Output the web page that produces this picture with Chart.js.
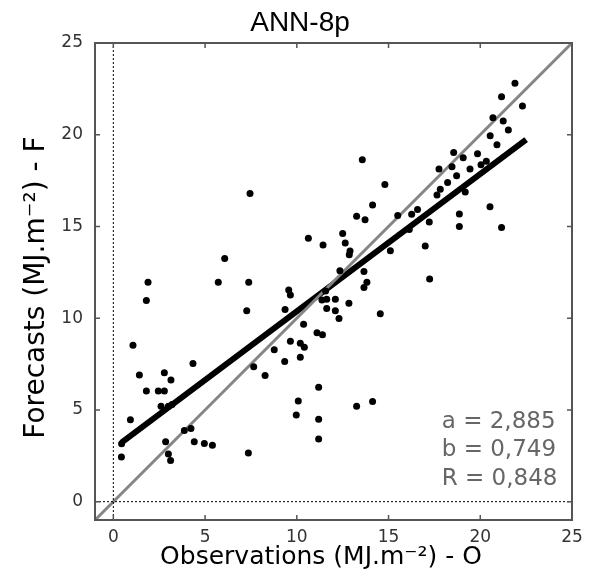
<!DOCTYPE html>
<html>
<head>
<meta charset="utf-8">
<script src="https://cdn.jsdelivr.net/npm/chart.js@4"></script>
<style>
  html, body { margin: 0; padding: 0; background: #fff; }
  #wrap { width: 590px; height: 584px; }
</style>
</head>
<body>
<div id="wrap"><canvas id="chart" width="590" height="584"></canvas></div>
<script>

//
// data
//

const observations = [
    7.45, 6.07, 1.89, 5.72, 7.38, 1.80, 7.27, 1.07, 4.34, 1.42,
    2.78, 3.14, 1.80, 2.45, 2.78, 2.60, 3.00, 3.20, 0.93, 0.45,
    0.44, 2.85, 3.00, 3.12, 4.41, 4.96, 5.40, 7.36, 3.87, 4.23,
    7.65, 9.56, 9.65, 9.36, 10.37, 9.65, 10.19, 10.41, 10.19, 8.77,
    9.34, 8.27, 11.10, 11.40, 11.19, 10.08, 9.97, 11.19, 11.19, 11.37,
    11.63, 11.63, 12.10, 12.10, 12.30, 13.26, 14.13, 12.84, 13.66, 13.82,
    13.66, 14.55, 17.24, 13.57, 14.80, 14.13, 13.26, 13.72, 16.26, 10.63,
    11.43, 12.50, 12.64, 12.90, 12.86, 15.10, 12.35, 11.57, 21.89, 21.16,
    22.30, 20.69, 21.25, 21.53, 20.54, 20.91, 18.55, 19.07, 19.85, 20.04,
    20.33, 17.75, 18.46, 19.44, 18.71, 18.22, 17.82, 17.64, 19.18, 16.58,
    17.22, 18.86, 18.86, 20.53, 21.16, 17.00, 15.50, 16.13
];

const forecasts = [
    16.80, 13.26, 11.96, 11.96, 11.96, 10.97, 10.40, 8.52, 7.53, 6.90,
    7.03, 6.63, 6.03, 6.03, 6.03, 5.20, 5.20, 5.30, 4.47, 3.15,
    2.43, 3.26, 2.60, 2.24, 3.26, 3.17, 3.08, 2.65, 3.88, 3.99,
    7.36, 11.54, 11.26, 10.48, 9.67, 8.75, 8.64, 8.42, 7.87, 8.28,
    7.64, 6.87, 9.20, 9.10, 6.23, 5.48, 4.73, 4.49, 3.42, 10.99,
    11.03, 10.53, 11.03, 10.40, 9.98, 5.20, 5.46, 10.82, 12.55, 11.96,
    11.67, 10.24, 12.14, 18.63, 17.29, 16.17, 15.55, 15.37, 15.66, 14.36,
    13.99, 14.62, 14.10, 13.66, 13.46, 13.68, 12.58, 11.48, 22.80, 22.07,
    21.56, 20.92, 20.75, 20.26, 19.95, 19.45, 19.03, 18.74, 18.96, 18.37,
    18.55, 18.13, 18.26, 18.13, 17.77, 17.40, 17.03, 16.72, 16.88, 15.93,
    15.24, 15.68, 15.00, 16.08, 14.95, 13.94, 15.60, 14.84
];

// fitted line F = a + b*O, drawn over the observed range
const fitA = 2.885;
const fitB = 0.749;
const fitRange = [0.44, 22.5];

const axisMin = -1;
const axisMax = 25;
const tickValues = [0, 5, 10, 15, 20, 25];

const chartTitle = "ANN-8p";
const xTitle = "Observations (MJ.m\u207B\u00B2) - O";
const yTitle = "Forecasts (MJ.m\u207B\u00B2) - F";
const statLabels = ["a = 2,885", "b = 0,749", "R = 0,848"];

//
// frame + inward ticks + titles + stats text
//

const frameTicksPlugin = {
    id: "frameTicks",

    afterDatasetsDraw(chart) {

        const { ctx, chartArea: { left, right, top, bottom }, scales: { x, y } } = chart;

        ctx.save();

        ctx.strokeStyle = "#555";
        ctx.lineWidth = 2;
        ctx.strokeRect(left, top, right - left, bottom - top);

        ctx.lineWidth = 1.5;
        ctx.beginPath();
        tickValues.forEach(v => {
            const px = x.getPixelForValue(v);
            ctx.moveTo(px, bottom);
            ctx.lineTo(px, bottom - 5);
            ctx.moveTo(px, top);
            ctx.lineTo(px, top + 5);

            const py = y.getPixelForValue(v);
            ctx.moveTo(left, py);
            ctx.lineTo(left + 5, py);
            ctx.moveTo(right, py);
            ctx.lineTo(right - 5, py);
        });
        ctx.stroke();

        // regression stats
        ctx.fillStyle = "#666";
        ctx.font = "23px 'DejaVu Sans'";
        ctx.textAlign = "left";
        ctx.textBaseline = "middle";
        const tx = x.getPixelForValue(17.9);
        statLabels.forEach((txt, i) => {
            ctx.fillText(txt, tx, y.getPixelForValue(4.35 - i * 1.55));
        });

        // titles
        ctx.fillStyle = "#000";
        ctx.textAlign = "center";

        ctx.font = "28px 'Liberation Sans'";
        ctx.fillText(chartTitle, 300, 23);

        ctx.font = "25px 'DejaVu Sans'";
        ctx.fillText(xTitle, 321, 557);

        ctx.translate(37, (top + bottom) / 2 + 6);
        ctx.rotate(-Math.PI / 2);
        ctx.font = "28px 'DejaVu Sans'";
        ctx.fillText(yTitle, 0, 0);

        ctx.restore();
    }
};

const points = observations.map((o, i) => ({ x: o, y: forecasts[i] }));

const fitLine = fitRange.map(o => ({ x: o, y: fitA + fitB * o }));

new Chart(document.getElementById("chart"), {
    type: "scatter",

    data: {
        datasets: [
            {
                type: "line",
                data: [{ x: 0, y: axisMin }, { x: 0, y: axisMax }],
                borderColor: "#000",
                borderWidth: 1,
                borderDash: [2, 2],
                pointRadius: 0
            },
            {
                type: "line",
                data: [{ x: axisMin, y: 0 }, { x: axisMax, y: 0 }],
                borderColor: "#000",
                borderWidth: 1,
                borderDash: [2, 2],
                pointRadius: 0
            },
            {
                data: points,
                backgroundColor: "#000",
                borderColor: "#000",
                pointRadius: 3.5,
                pointBorderWidth: 0
            },
            {
                type: "line",
                data: [{ x: axisMin, y: axisMin }, { x: axisMax, y: axisMax }],
                borderColor: "#858585",
                borderWidth: 3,
                pointRadius: 0
            },
            {
                type: "line",
                data: fitLine,
                borderColor: "#000",
                borderWidth: 6,
                borderCapStyle: "butt",
                pointRadius: 0
            }
        ]
    },

    options: {
        responsive: false,
        animation: false,
        events: [],

        layout: {
            padding: { left: 0, right: 18, top: 43, bottom: 0 }
        },

        scales: {
            x: {
                type: "linear",
                min: axisMin,
                max: axisMax,
                afterBuildTicks: s => { s.ticks = tickValues.map(v => ({ value: v })); },
                afterFit: s => { s.height = 64; },
                grid: { display: false, drawTicks: false },
                border: { display: false },
                ticks: {
                    padding: 7,
                    color: "#333",
                    font: { family: "DejaVu Sans", size: 17 }
                }
            },
            y: {
                type: "linear",
                min: axisMin,
                max: axisMax,
                afterBuildTicks: s => { s.ticks = tickValues.map(v => ({ value: v })); },
                afterFit: s => { s.width = 95; },
                grid: { display: false, drawTicks: false },
                border: { display: false },
                ticks: {
                    padding: 12,
                    color: "#333",
                    font: { family: "DejaVu Sans", size: 17 }
                }
            }
        },

        plugins: {
            legend: { display: false },
            tooltip: { enabled: false },
            title: { display: false }
        }
    },

    plugins: [frameTicksPlugin]
});
</script>
</body>
</html>
